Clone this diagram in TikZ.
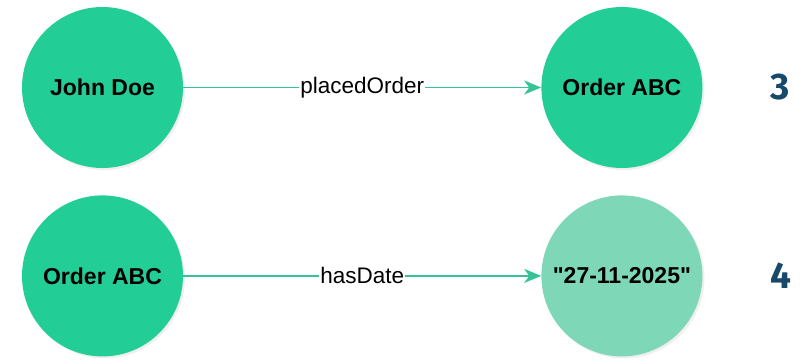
\documentclass[tikz,border=0pt]{standalone}
\usepackage{fontspec}
\setmainfont{Liberation Sans}
\newfontfamily\stepfont{Fira Sans}
\definecolor{mintgreen}{RGB}{34,206,150}
\definecolor{palemint}{RGB}{126,216,184}
\definecolor{edgeteal}{RGB}{52,196,152}
\definecolor{stepnavy}{RGB}{24,72,106}
\usetikzlibrary{arrows.meta,positioning,shadows}

\begin{document}
\begin{tikzpicture}[x=1pt, y=1pt,
      arr/.style={-{Stealth[length=17pt, width=14pt, inset=5pt]}, line width=1.6pt, edgeteal},
      res/.style={circle, fill=mintgreen, minimum size=161pt, inner sep=0pt,
                  font=\fontsize{23}{27}\selectfont\bfseries,
                  drop shadow={opacity=0.12, shadow xshift=2pt, shadow yshift=-2pt}},
      lit/.style={res, fill=palemint},
      pred/.style={fill=white, text=black, inner sep=1pt, font=\fontsize{22.5}{27}\selectfont},
      stepno/.style={text=stepnavy, font=\stepfont\fontsize{37}{44}\selectfont\bfseries}
    ]
    \useasboundingbox[fill=white] (0,0) rectangle (808,-359);
    % triple 3
    \node[res] (john) at (102.5,-87.5) {John Doe};
    \node[res, right=358pt of john] (order1) {Order ABC};
    \node[stepno, right=64pt of order1] (s3) {3};
    \draw[arr] (john) -- node[pred] (p1) {placedOrder} (order1);
    % triple 4
    \node[res, below=27pt of john] (order2) {Order ABC};
    \node[lit, right=358pt of order2] (date) {\textquotedbl27-11-2025\textquotedbl};
    \node[stepno, right=64pt of date] (s4) {4};
    \draw[arr] (order2) -- node[pred] (p2) {hasDate} (date);
  \end{tikzpicture}
\end{document}
